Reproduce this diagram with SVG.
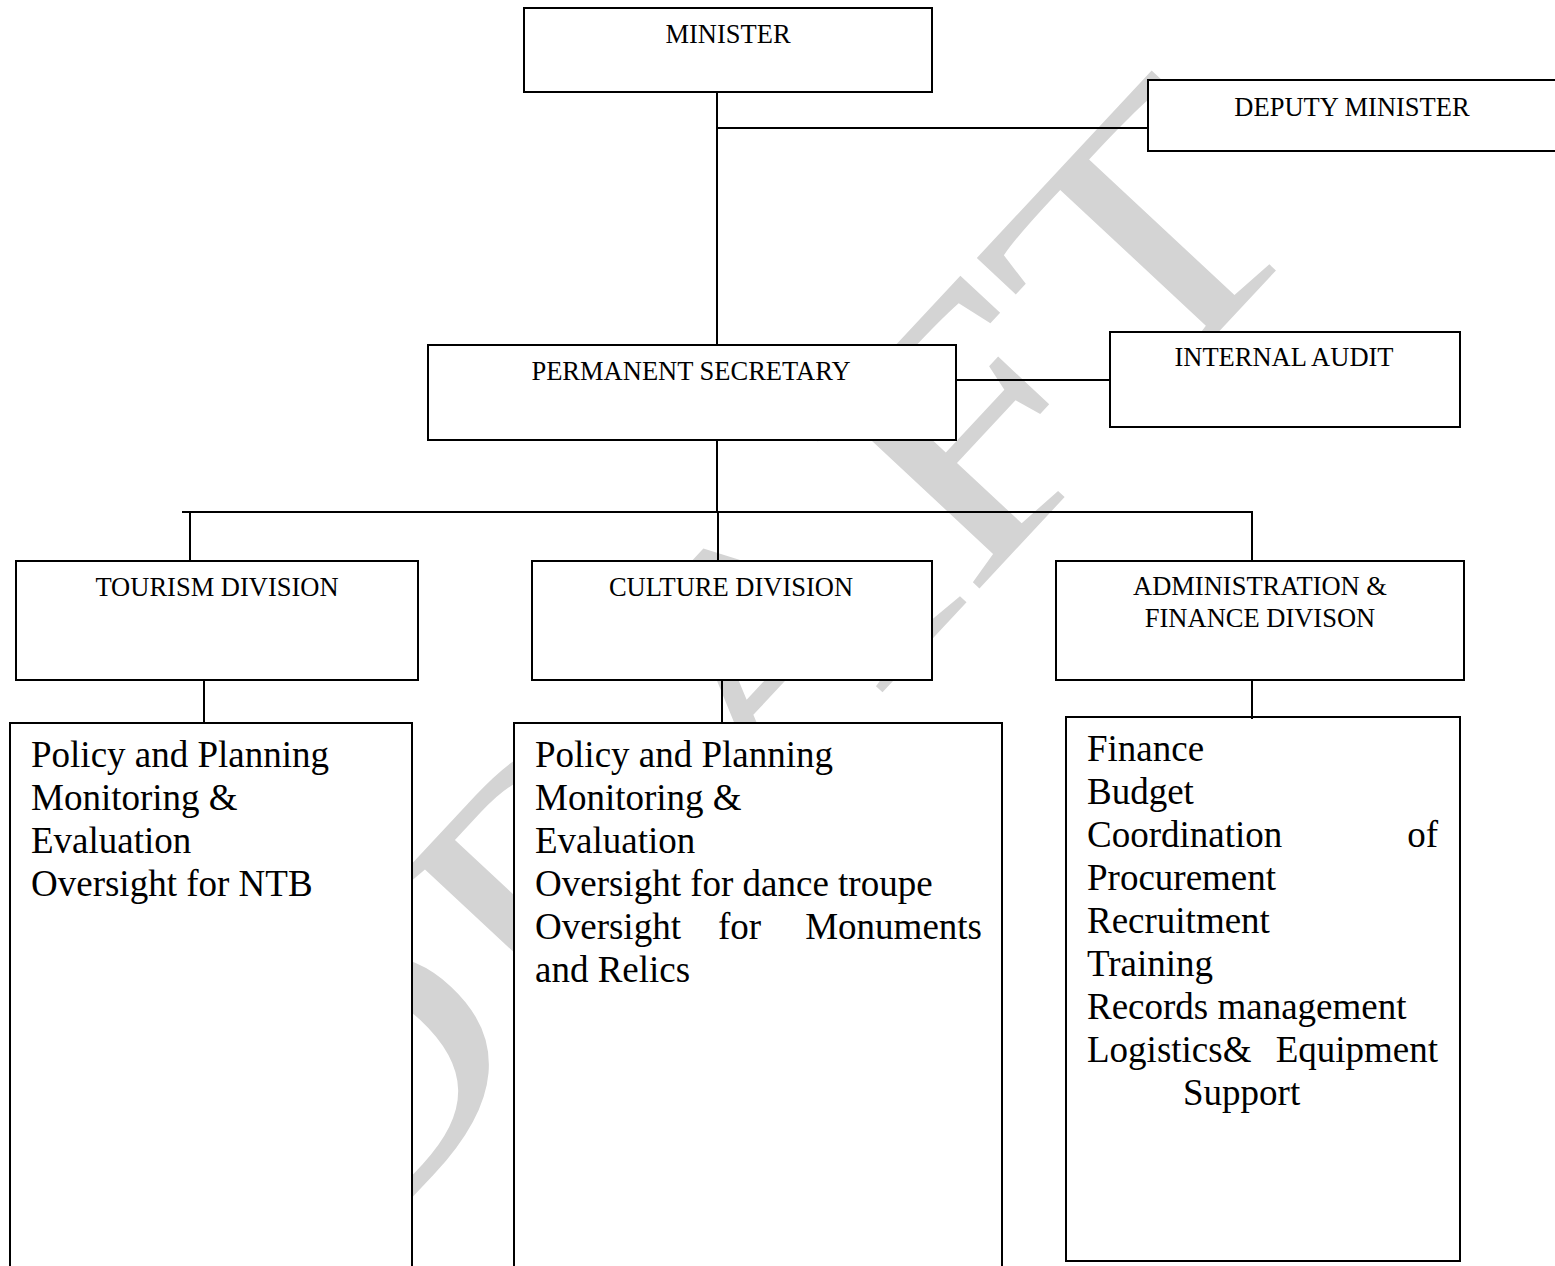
<svg xmlns="http://www.w3.org/2000/svg" width="1555" height="1266" viewBox="0 0 1555 1266">
<style>
.box{fill:#fff;stroke:#000;stroke-width:2}
.t{font-family:'Liberation Serif','Times New Roman',serif;fill:#000}
.s{font-size:26.5px}
.l{font-size:37px}
.c{stroke:#000;stroke-width:2;fill:none}
.wm{font-family:'Liberation Serif','Times New Roman',serif;font-size:445px;fill:#d4d4d4}
</style>
<rect width="1555" height="1266" fill="#fff"/>
<g id="watermark">
<text class="wm" transform="translate(328,1287) rotate(-47) scale(1,0.78)" x="0" y="0">DRAFT</text>
</g>
<g id="minister">
<rect class="box" x="524" y="8" width="408" height="84"/>
<text class="t s" x="728" y="43" text-anchor="middle">MINISTER</text>
</g>
<g id="deputy-minister">
<rect class="box" x="1148" y="80" width="420" height="71"/>
<text class="t s" x="1352" y="116" text-anchor="middle">DEPUTY MINISTER</text>
</g>
<g id="permanent-secretary">
<rect class="box" x="428" y="345" width="528" height="95"/>
<text class="t s" x="691" y="380" text-anchor="middle">PERMANENT SECRETARY</text>
</g>
<g id="internal-audit">
<rect class="box" x="1110" y="332" width="350" height="95"/>
<text class="t s" x="1284" y="366" text-anchor="middle">INTERNAL AUDIT</text>
</g>
<g id="tourism-division">
<rect class="box" x="16" y="561" width="402" height="119"/>
<text class="t s" x="217" y="596" text-anchor="middle">TOURISM DIVISION</text>
</g>
<g id="culture-division">
<rect class="box" x="532" y="561" width="400" height="119"/>
<text class="t s" x="731" y="596" text-anchor="middle">CULTURE DIVISION</text>
</g>
<g id="admin-finance-division">
<rect class="box" x="1056" y="561" width="408" height="119"/>
<text class="t s" x="1260" y="595" text-anchor="middle">ADMINISTRATION &amp;</text>
<text class="t s" x="1260" y="627" text-anchor="middle">FINANCE DIVISON</text>
</g>
<g id="tourism-functions">
<rect class="box" x="10" y="723" width="402" height="560"/>
<text class="t l" x="31" y="767">Policy and Planning</text>
<text class="t l" x="31" y="810">Monitoring &amp;</text>
<text class="t l" x="31" y="853">Evaluation</text>
<text class="t l" x="31" y="896">Oversight for NTB</text>
</g>
<g id="culture-functions">
<rect class="box" x="514" y="723" width="488" height="560"/>
<text class="t l" x="535" y="767">Policy and Planning</text>
<text class="t l" x="535" y="810">Monitoring &amp;</text>
<text class="t l" x="535" y="853">Evaluation</text>
<text class="t l" x="535" y="896">Oversight for dance troupe</text>
<text class="t l" x="535" y="939">Oversight</text>
<text class="t l" x="718" y="939">for</text>
<text class="t l" x="982" y="939" text-anchor="end">Monuments</text>
<text class="t l" x="535" y="982">and Relics</text>
</g>
<g id="admin-functions">
<rect class="box" x="1066" y="717" width="394" height="544"/>
<text class="t l" x="1087" y="761">Finance</text>
<text class="t l" x="1087" y="804">Budget</text>
<text class="t l" x="1087" y="847">Coordination</text>
<text class="t l" x="1438" y="847" text-anchor="end">of</text>
<text class="t l" x="1087" y="890">Procurement</text>
<text class="t l" x="1087" y="933">Recruitment</text>
<text class="t l" x="1087" y="976">Training</text>
<text class="t l" x="1087" y="1019">Records management</text>
<text class="t l" x="1087" y="1062">Logistics&amp;</text>
<text class="t l" x="1438" y="1062" text-anchor="end">Equipment</text>
<text class="t l" x="1183" y="1105">Support</text>
</g>
<g id="connectors">
<line class="c" x1="717" y1="92" x2="717" y2="345"/>
<line class="c" x1="717" y1="128" x2="1148" y2="128"/>
<line class="c" x1="956" y1="380" x2="1110" y2="380"/>
<line class="c" x1="717" y1="440" x2="717" y2="512"/>
<line class="c" x1="182" y1="512" x2="1253" y2="512"/>
<line class="c" x1="190" y1="512" x2="190" y2="561"/>
<line class="c" x1="718" y1="512" x2="718" y2="561"/>
<line class="c" x1="1252" y1="512" x2="1252" y2="561"/>
<line class="c" x1="204" y1="680" x2="204" y2="723"/>
<line class="c" x1="722" y1="680" x2="722" y2="723"/>
<line class="c" x1="1252" y1="680" x2="1252" y2="719"/>
</g>
</svg>
